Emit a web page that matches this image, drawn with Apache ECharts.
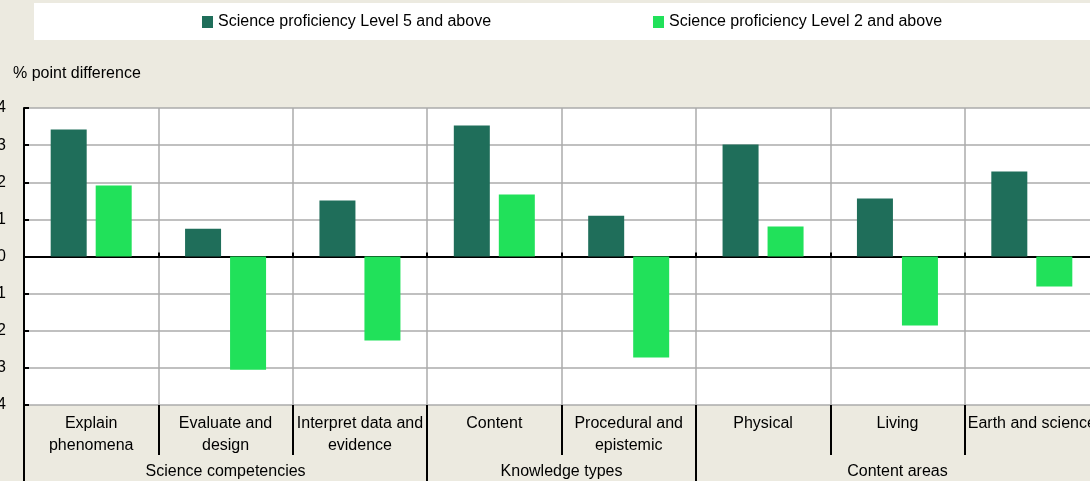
<!DOCTYPE html>
<html>
<head>
<meta charset="utf-8">
<script src="https://cdn.jsdelivr.net/npm/echarts@6/dist/echarts.min.js"></script>
<style>
  html, body { margin: 0; padding: 0; background: #ECEAE0; }
  #chart { width: 1090px; height: 481px; }
</style>
</head>
<body>
<div id="chart"></div>
<script>
var categories = ['Explain\nphenomena', 'Evaluate and\ndesign', 'Interpret data and\nevidence',
    'Content', 'Procedural and\nepistemic', 'Physical', 'Living', 'Earth and science'];
var level5 = [3.42, 0.75, 1.51, 3.53, 1.10, 3.02, 1.56, 2.29];
var level2 = [1.91, -3.05, -2.26, 1.67, -2.72, 0.81, -1.86, -0.81];
var groupNames = ['Science competencies', 'Knowledge types', 'Content areas'];
var groupSizes = [3, 2, 3];
var yTicks = [-4, -3, -2, -1, 0, 1, 2, 3, 4];

// half-category steps for the group axis: boundaries and centres of each group
var halfSteps = [];
var groupLabelAt = {};
var groupEdgeAt = {0: true};
var pos = 0;
groupSizes.forEach(function(n, i) {
    groupLabelAt[pos + n] = groupNames[i];
    pos += n * 2;
    groupEdgeAt[pos] = true;
});
for (var k = 0; k <= pos; k++) halfSteps.push(String(k));

var font = "'Liberation Sans', Arial, sans-serif";
var dark = '#1F6E5A';
var light = '#21E15A';
var gridGrey = '#ABABAB';

var chart = echarts.init(document.getElementById('chart'));
chart.setOption({
    backgroundColor: '#ECEAE0',
    animation: false,
    textStyle: { fontFamily: font },
    graphic: [{
        type: 'rect', left: 34, top: 3, z: 0,
        shape: { width: 1060, height: 37 },
        style: { fill: '#ffffff' }
    }],
    title: {
        text: '% point difference', left: 13, top: 66, padding: 0,
        textStyle: { fontSize: 16, fontWeight: 'normal', color: '#000', fontFamily: font }
    },
    legend: [{
        left: 202, top: 14, padding: 0, z: 5, icon: 'rect',
        itemWidth: 11, itemHeight: 12,
        data: ['Science proficiency Level 5 and above'],
        textStyle: { fontSize: 16, color: '#000', fontFamily: font }
    }, {
        left: 653, top: 14, padding: 0, z: 5, icon: 'rect',
        itemWidth: 11, itemHeight: 12,
        data: ['Science proficiency Level 2 and above'],
        textStyle: { fontSize: 16, color: '#000', fontFamily: font }
    }],
    grid: {
        left: 24, top: 108, right: -9, bottom: 76,
        outerBoundsMode: 'none', containLabel: false,
        show: true, backgroundColor: '#ffffff', borderWidth: 0
    },
    xAxis: [{
        type: 'category', data: categories, position: 'bottom',
        axisLine: { show: false, onZero: false },
        axisTick: { show: true, length: 50, lineStyle: { color: '#000', width: 2 } },
        axisLabel: { interval: 0, margin: 8, fontSize: 16, lineHeight: 22, color: '#000', fontFamily: font },
        splitLine: { show: true, interval: 0, lineStyle: { color: gridGrey, width: 1.5 } }
    }, {
        type: 'category', data: categories, position: 'top',
        axisLine: { show: true, onZero: true, lineStyle: { color: '#000', width: 2 } },
        axisTick: { show: true, length: 4, lineStyle: { color: '#000', width: 2 } },
        axisLabel: { show: false },
        splitLine: { show: false }
    }, {
        type: 'category', data: halfSteps, position: 'bottom', boundaryGap: false,
        axisLine: { show: false, onZero: false },
        axisTick: {
            show: true, length: 76, lineStyle: { color: '#000', width: 2 },
            interval: function(i) { return !!groupEdgeAt[i]; }
        },
        axisLabel: {
            margin: 59, fontSize: 16, color: '#000', fontFamily: font,
            interval: function(i) { return !!groupLabelAt[i]; },
            formatter: function(v, i) { return groupLabelAt[i] || ''; }
        },
        splitLine: { show: false }
    }],
    yAxis: {
        type: 'value', min: yTicks[0], max: yTicks[yTicks.length - 1], interval: 1,
        axisLine: { show: true, lineStyle: { color: '#000', width: 2 } },
        axisTick: { show: true, inside: true, length: 5, lineStyle: { color: '#000', width: 2 } },
        axisLabel: { margin: 18, fontSize: 16, color: '#000', fontFamily: font },
        splitLine: { show: true, lineStyle: { color: gridGrey, width: 1.5 } }
    },
    series: [{
        name: 'Science proficiency Level 5 and above', type: 'bar', xAxisIndex: 0,
        data: level5, barWidth: 36, barGap: '25%',
        itemStyle: { color: dark }
    }, {
        name: 'Science proficiency Level 2 and above', type: 'bar', xAxisIndex: 0,
        data: level2, barWidth: 36, barGap: '25%',
        itemStyle: { color: light }
    }]
});
</script>
</body>
</html>
